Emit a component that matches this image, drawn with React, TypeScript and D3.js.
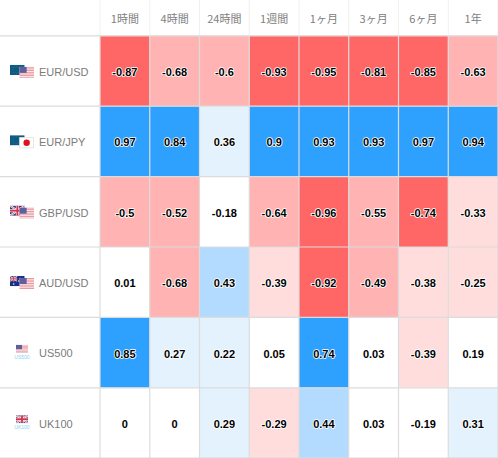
import React from "react";
import * as d3 from "d3";

const periods = ["1時間", "4時間", "24時間", "1週間", "1ヶ月", "3ヶ月", "6ヶ月", "1年"];
const symbols = ["EUR/USD", "EUR/JPY", "GBP/USD", "AUD/USD", "US500", "UK100"];
const flagSets = [["eu", "us"], ["eu", "jp"], ["uk", "us"], ["au", "us"], ["us"], ["uk"]];
const eurUsd = [-0.87, -0.68, -0.6, -0.93, -0.95, -0.81, -0.85, -0.63];
const eurJpy = [0.97, 0.84, 0.36, 0.9, 0.93, 0.93, 0.97, 0.94];
const gbpUsd = [-0.5, -0.52, -0.18, -0.64, -0.96, -0.55, -0.74, -0.33];
const audUsd = [0.01, -0.68, 0.43, -0.39, -0.92, -0.49, -0.38, -0.25];
const us500 = [0.85, 0.27, 0.22, 0.05, 0.74, 0.03, -0.39, 0.19];
const uk100 = [0, 0, 0.29, -0.29, 0.44, 0.03, -0.19, 0.31];
const rows = [eurUsd, eurJpy, gbpUsd, audUsd, us500, uk100];

const W = 498, H = 458;
const LEFT = 100, HEAD = 35.8;
const x = d3.scaleBand<number>().domain(d3.range(periods.length)).range([LEFT, W]);
const y = d3.scaleBand<number>().domain(d3.range(symbols.length)).range([HEAD, HEAD + 6 * 70.4]);
const color = d3.scaleThreshold<number, string>()
  .domain([-0.7, -0.4, -0.2, 0.2, 0.4, 0.7])
  .range(["#ff6666", "#ffb3b3", "#ffdddd", "#ffffff", "#e4f2fd", "#b3dbff", "#2ea1ff"]);

const LINE = "#dcdcdc";
const SANS = "'Liberation Sans', Arial, sans-serif";

function Flag({ kind, fx, fy, w, h }: { kind: string; fx: number; fy: number; w: number; h: number }) {
  const id = `clip-${kind}-${fx}-${Math.round(fy)}`;
  let body: React.ReactNode = null;
  if (kind === "eu") {
    const stars = d3.range(8).map((i) => {
      const a = (i / 8) * 2 * Math.PI;
      return <circle key={i} cx={w * 0.42 + Math.cos(a) * 3.4} cy={h / 2 + Math.sin(a) * 3.4} r={0.45} fill="#5d8f4a" />;
    });
    body = <><rect width={w} height={h} fill="#0f5a84" />{stars}</>;
  } else if (kind === "us") {
    const n = 7;
    body = (
      <>
        <rect width={w} height={h} fill="#fbf3f3" />
        {d3.range(n).map((i) => (
          <rect key={i} y={(i * 2 * h) / 13} width={w} height={h / 13} fill="#e58a93" />
        ))}
        <rect width={w * 0.5} height={h * 0.55} fill="#5d5f9e" />
      </>
    );
  } else if (kind === "jp") {
    body = (
      <>
        <rect width={w} height={h} fill="#ffffff" stroke="#dddddd" strokeWidth={1.4} />
        <circle cx={w / 2} cy={h / 2} r={h * 0.29} fill="#e0101e" />
      </>
    );
  } else {
    const cross = (
      <>
        <line x1={0} y1={0} x2={w} y2={h} stroke="#fff" strokeWidth={2} />
        <line x1={w} y1={0} x2={0} y2={h} stroke="#fff" strokeWidth={2} />
        <line x1={0} y1={0} x2={w} y2={h} stroke="#d5304a" strokeWidth={0.7} />
        <line x1={w} y1={0} x2={0} y2={h} stroke="#d5304a" strokeWidth={0.7} />
        <rect x={w / 2 - 1.5} width={3} height={h} fill="#fff" />
        <rect y={h / 2 - 1.5} width={w} height={3} fill="#fff" />
        <rect x={w / 2 - 0.9} width={1.8} height={h} fill="#d5304a" />
        <rect y={h / 2 - 0.9} width={w} height={1.8} fill="#d5304a" />
      </>
    );
    if (kind === "uk") {
      body = <><rect width={w} height={h} fill="#2b3a7e" />{cross}</>;
    } else {
      body = (
        <>
          <rect width={w} height={h} fill="#1c2f86" />
          <svg width={w * 0.5} height={h * 0.55} viewBox={`0 0 ${w} ${h}`} preserveAspectRatio="none">{cross}</svg>
          {[[0.25, 0.78], [0.72, 0.25], [0.85, 0.5], [0.72, 0.78], [0.6, 0.48]].map(([a, b], i) => (
            <circle key={i} cx={w * a} cy={h * b} r={0.75} fill="#fff" />
          ))}
        </>
      );
    }
  }
  return (
    <g transform={`translate(${fx},${fy})`}>
      <clipPath id={id}><rect width={w} height={h} /></clipPath>
      <g clipPath={`url(#${id})`}>{body}</g>
    </g>
  );
}

export default function App() {
  const bw = x.bandwidth();
  const bh = y.bandwidth();
  return (
    <svg width={W} height={H} style={{ position: "absolute", left: 0, top: 0, background: "#fff" }}>
      {rows.map((vals, r) =>
        vals.map((v, c) => (
          <rect key={`${r}-${c}`} x={x(c)!} y={y(r)!} width={bw} height={bh} fill={color(v)} />
        ))
      )}
      {d3.range(periods.length + 1).map((i) => {
        const px = LEFT + i * bw;
        return (
          <g key={i}>
            <line x1={px} x2={px} y1={0} y2={HEAD} stroke="#f0f0f0" strokeWidth={1} />
            <line x1={px} x2={px} y1={HEAD} y2={H} stroke={LINE} strokeWidth={1.2} />
          </g>
        );
      })}
      {d3.range(symbols.length + 1).map((i) => {
        const py = HEAD + i * bh;
        return <line key={i} x1={0} x2={W} y1={py} y2={py} stroke={LINE} strokeWidth={1.2} />;
      })}
      {periods.map((p, i) => (
        <text key={p} x={x(i)! + bw / 2} y={18} textAnchor="middle" dominantBaseline="central"
          fontSize={11} fill="#808080" fontFamily="'Noto Sans CJK JP', sans-serif">{p}</text>
      ))}
      {symbols.map((s, r) => {
        const top = y(r)!;
        const flags = flagSets[r];
        const single = flags.length === 1;
        return (
          <g key={s}>
            {single ? (
              <>
                <Flag kind={flags[0]} fx={16} fy={top + 27.4} w={12} h={8} />
                <text x={22} y={top + 41.6} textAnchor="middle" fontSize={5} fill="#7fd4f5" fontFamily={SANS}>{s}</text>
              </>
            ) : (
              <>
                <Flag kind={flags[0]} fx={10} fy={top + 29} w={14.7} h={10.2} />
                <Flag kind={flags[1]} fx={19.3} fy={top + 31} w={14.7} h={11} />
              </>
            )}
            <text x={39} y={top + 36} dominantBaseline="central" fontSize={11} fill="#7b7b7b" fontFamily={SANS}>{s}</text>
          </g>
        );
      })}
      {rows.map((vals, r) =>
        vals.map((v, c) => (
          <text key={`t${r}-${c}`} x={x(c)! + bw / 2} y={y(r)! + bh / 2 + 1} textAnchor="middle" dominantBaseline="central"
            fontSize={11} fontWeight={700} fill="#000" stroke="#fff" strokeWidth={1.6} paintOrder="stroke"
            strokeLinejoin="round" fontFamily={SANS}>{String(v)}</text>
        ))
      )}
    </svg>
  );
}
